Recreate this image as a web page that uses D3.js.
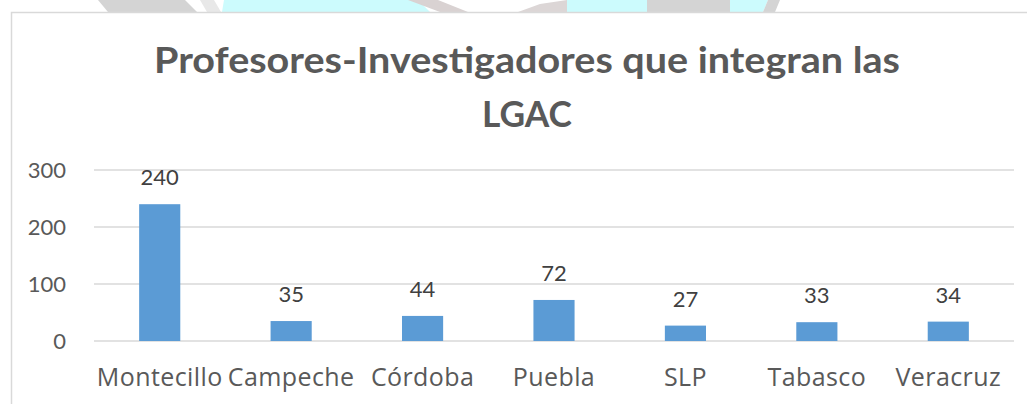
<!DOCTYPE html>
<meta charset="utf-8">
<style>
body { margin: 0; background: #fff; }
svg { display: block; }
.title {
  font: bold 37px Lato, sans-serif;
  fill: #595959;
  text-anchor: middle;
}
.axis text {
  font: 22px Lato, sans-serif;
  fill: #595959;
}
.xaxis text {
  font: 25px "Open Sans", sans-serif;
  letter-spacing: 0.4px;
  fill: #595959;
}
.label {
  font: 22px Lato, sans-serif;
  fill: #404040;
  text-anchor: middle;
}
</style>
<svg width="1027" height="404"></svg>
<script src="https://d3js.org/d3.v7.min.js"></script>
<script>

var categories = ["Montecillo", "Campeche", "Córdoba", "Puebla", "SLP", "Tabasco", "Veracruz"];
var values = [240, 35, 44, 72, 27, 33, 34];
var yTicks = [0, 100, 200, 300];
var titleLines = ["Profesores-Investigadores que integran las", "LGAC"];

var svg = d3.select("svg");

// watermark bits of the page showing above the chart frame
var marks = [
  {c: "#d4d4d4", p: [[98,0],[185,0],[197,12],[108,12]]},
  {c: "#e8e8e8", p: [[200,0],[214,0],[221,12],[207,12]]},
  {c: "#ccfbfd", p: [[224,0],[418,0],[430,12],[222,12]]},
  {c: "#d9d2d2", p: [[408,0],[438,0],[468,12],[440,12]]},
  {c: "#dcd6d6", p: [[540,4],[567,0],[567,12],[518,12]]},
  {c: "#ccfbfd", p: [[567,0],[647,0],[647,12],[567,12]]},
  {c: "#d4d4d4", p: [[647,0],[730,0],[730,12],[647,12]]},
  {c: "#ccfbfd", p: [[730,0],[768,0],[763,12],[730,12]]},
  {c: "#d4d4d4", p: [[768,0],[780,0],[775,12],[763,12]]}
];
svg.selectAll(".wm")
  .data(marks)
  .enter().append("polygon")
    .attr("fill", function(d) { return d.c; })
    .attr("points", function(d) { return d.p.join(" "); });

// chart frame
svg.append("rect")
    .attr("x", 11.5).attr("y", 12.5)
    .attr("width", 1031).attr("height", 420)
    .attr("fill", "#fff")
    .attr("stroke", "#d9d9d9")
    .attr("stroke-width", 1.5);

svg.selectAll(".title")
  .data(titleLines)
  .enter().append("text")
    .attr("class", "title")
    .attr("x", 527)
    .attr("y", function(d, i) { return 73 + i * 54; })
    .attr("textLength", function(d, i) { return i == 0 ? 746 : 90; })
    .attr("lengthAdjust", "spacingAndGlyphs")
    .text(function(d) { return d; });

var x = d3.scaleBand()
    .domain(categories)
    .range([94, 1014])
    .paddingInner(0.687)
    .paddingOuter(0.3435);

var y = d3.scaleLinear()
    .domain([0, 300])
    .range([341, 170]);

// gridlines
svg.append("g")
  .selectAll("line")
  .data(yTicks)
  .enter().append("line")
    .attr("x1", 94).attr("x2", 1014)
    .attr("y1", function(d) { return y(d); })
    .attr("y2", function(d) { return y(d); })
    .attr("stroke", "#d9d9d9")
    .attr("stroke-width", 1.5);

var yAxis = svg.append("g")
    .attr("class", "axis")
    .attr("transform", "translate(94,0)")
    .call(d3.axisLeft(y).tickValues(yTicks).tickSize(0).tickPadding(28));
yAxis.select(".domain").remove();
yAxis.selectAll("text").attr("dy", "0.36em");

var xAxis = svg.append("g")
    .attr("class", "xaxis")
    .attr("transform", "translate(0,341)")
    .call(d3.axisBottom(x).tickSize(0).tickPadding(27));
xAxis.select(".domain").remove();

svg.append("g")
  .selectAll("rect")
  .data(values)
  .enter().append("rect")
    .attr("x", function(d, i) { return x(categories[i]); })
    .attr("y", function(d) { return y(d); })
    .attr("width", x.bandwidth())
    .attr("height", function(d) { return y(0) - y(d); })
    .attr("fill", "#5b9bd5");

svg.append("g")
  .selectAll("text")
  .data(values)
  .enter().append("text")
    .attr("class", "label")
    .attr("x", function(d, i) { return x(categories[i]) + x.bandwidth() / 2; })
    .attr("y", function(d) { return y(d) - 19; })
    .text(function(d) { return d; });

</script>
